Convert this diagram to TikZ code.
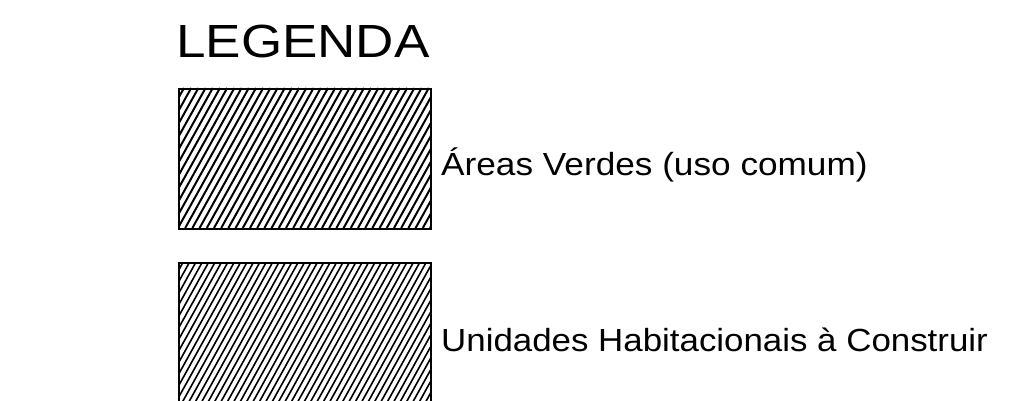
\documentclass[tikz,border=0pt]{standalone}
\usepackage{fontspec}
\setmainfont{Liberation Sans}
\begin{document}
\begin{tikzpicture}[x=1pt,y=-1pt,
  boxframe/.style={draw=black,line width=2pt},
  hatchA/.style={line width=2pt},
  hatchB/.style={line width=1.6pt},
  label/.style={anchor=base west,inner sep=0pt,font=\fontsize{32}{36}\selectfont}]
\useasboundingbox (0,0) rectangle (1029,401);
\node[anchor=base west,inner sep=0pt,font=\fontsize{46.5}{50}\selectfont] (title) at (176,58) {\scalebox{1.14}[1]{LEGENDA}};
% box 1
\begin{scope}
\clip (178,88) rectangle (430,228);
\foreach \i in {-20,...,40} {
  \draw[hatchA] (178+\i*7.2,228) -- ++(78,-140);
}
\end{scope}
\node[boxframe,anchor=north west,minimum width=252pt,minimum height=140pt,inner sep=0pt] (boxA) at (178,88) {};
% box 2
\begin{scope}
\clip (178,262) rectangle (430,410);
\foreach \i in {-25,...,45} {
  \draw[hatchB] (178+\i*6.4,410) -- ++(82,-148);
}
\end{scope}
\node[boxframe,anchor=north west,minimum width=252pt,minimum height=150pt,inner sep=0pt] (boxB) at (178,262) {};
\node[label] (labA) at (441,176) {\scalebox{1.1}[1]{Áreas Verdes (uso comum)}};
\node[label] (labB) at (441,351.5) {\scalebox{1.09}[1]{Unidades Habitacionais à Construir}};
\end{tikzpicture}
\end{document}
